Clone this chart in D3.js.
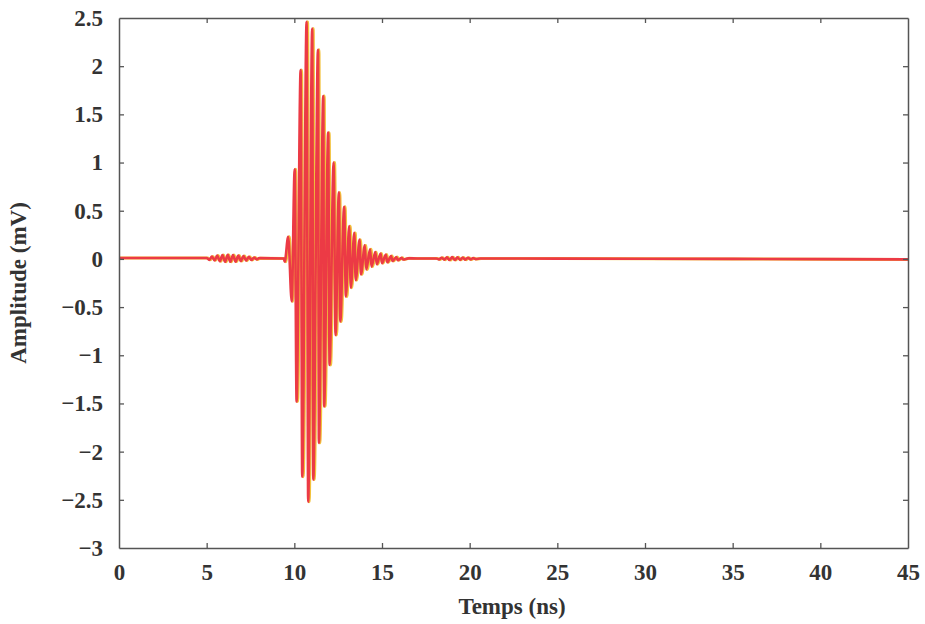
<!DOCTYPE html>
<html>
<head>
<meta charset="utf-8">
<script src="https://cdn.jsdelivr.net/npm/d3@7"></script>
<style>
  html, body { margin: 0; padding: 0; background: #fff; }
  svg { display: block; }
  text { font-family: "Liberation Serif", "DejaVu Serif", serif; font-weight: bold; fill: #333; }
</style>
</head>
<body>
<svg id="chart" width="925" height="624"></svg>
<script>
const timesNs = [
  0, 4.9,
  5.00, 5.15, 5.30, 5.45, 5.60, 5.75, 5.90, 6.05, 6.20, 6.35, 6.50, 6.65, 6.80, 6.95,
  7.10, 7.25, 7.40, 7.55, 7.70, 7.85, 8.00,
  9.40, 9.45, 9.65, 9.85,
  10.02, 10.13, 10.36, 10.45, 10.70, 10.79, 11.02, 11.08, 11.35, 11.40,
  11.65, 11.70, 11.93, 12.01, 12.24, 12.35, 12.54, 12.62, 12.84, 12.94,
  13.13, 13.22, 13.42, 13.50, 13.72, 13.80, 14.02, 14.10, 14.32, 14.40,
  14.62, 14.70, 14.92, 15.00, 15.22, 15.30, 15.52, 15.60, 15.82, 15.90,
  16.12, 16.20, 16.50, 17.00,
  18.10, 18.25, 18.40, 18.55, 18.70, 18.85, 19.00, 19.15, 19.30, 19.45,
  19.60, 19.75, 19.90, 20.05, 20.20, 20.35, 20.60,
  25, 35, 45
];
const amplitudesMv = [
  0.01, 0.01,
  0.01, -0.01, 0.025, -0.015, 0.035, -0.025, 0.04, -0.03, 0.042, -0.03, 0.04, -0.028, 0.035, -0.022,
  0.03, -0.018, 0.022, -0.012, 0.015, -0.005, 0.008,
  0.005, -0.03, 0.23, -0.44,
  0.93, -1.48, 1.96, -2.26, 2.46, -2.52, 2.39, -2.29, 2.17, -1.91,
  1.69, -1.53, 1.31, -1.10, 1.00, -0.79, 0.69, -0.65, 0.54, -0.39,
  0.34, -0.30, 0.27, -0.22, 0.20, -0.16, 0.14, -0.11, 0.10, -0.08,
  0.07, -0.055, 0.055, -0.045, 0.045, -0.035, 0.03, -0.022, 0.02, -0.013,
  0.012, -0.006, 0.006, 0.005,
  0.005, -0.005, 0.012, -0.008, 0.016, -0.012, 0.018, -0.012, 0.016, -0.01,
  0.014, -0.008, 0.012, -0.005, 0.008, -0.002, 0.005,
  0.003, 0.0, -0.005
];
const xTicks = [0, 5, 10, 15, 20, 25, 30, 35, 40, 45];
const yTicks = [-3, -2.5, -2, -1.5, -1, -0.5, 0, 0.5, 1, 1.5, 2, 2.5];
const xLabel = "Temps (ns)";
const yLabel = "Amplitude (mV)";

// ---- layout ----
const margin = { left: 119, right: 925 - 908, top: 18, bottom: 624 - 548 };
const W = 925, H = 624;
const svg = d3.select("#chart");

const x = d3.scaleLinear().domain([0, 45]).range([margin.left, W - margin.right]);
const y = d3.scaleLinear().domain([-3, 2.5]).range([H - margin.bottom, margin.top]);

const points = timesNs.map((t, i) => [t, amplitudesMv[i]]);

const line = d3.line()
  .x(d => x(d[0]))
  .y(d => y(d[1]))
  .curve(d3.curveMonotoneX);

svg.append("clipPath").attr("id", "clip")
  .append("rect")
  .attr("x", margin.left).attr("y", margin.top)
  .attr("width", W - margin.left - margin.right)
  .attr("height", H - margin.top - margin.bottom);

const plot = svg.append("g").attr("clip-path", "url(#clip)");

plot.append("path")
  .datum(points)
  .attr("d", line)
  .attr("fill", "none")
  .attr("stroke", "#f2c23c")
  .attr("stroke-width", 3)
  .attr("stroke-linejoin", "round")
  .attr("transform", "translate(1,0)");

plot.append("path")
  .datum(points)
  .attr("d", line)
  .attr("fill", "none")
  .attr("stroke", "#ec3a45")
  .attr("stroke-width", 2.6)
  .attr("stroke-linejoin", "round");

// ---- axes (ticks inside, mirrored) ----
const axisColor = "#555";
const tickLen = 5;

const gB = svg.append("g").attr("transform", `translate(0,${H - margin.bottom})`)
  .call(d3.axisBottom(x).tickValues(xTicks).tickSizeInner(-tickLen).tickSizeOuter(0).tickPadding(16).tickFormat(d3.format("d")));
const gT = svg.append("g").attr("transform", `translate(0,${margin.top})`)
  .call(d3.axisTop(x).tickValues(xTicks).tickSizeInner(-tickLen).tickSizeOuter(0).tickFormat(""));
const fmtY = d => (d < 0 ? "\u2212" + Math.abs(d) : String(d));
const gL = svg.append("g").attr("transform", `translate(${margin.left},0)`)
  .call(d3.axisLeft(y).tickValues(yTicks).tickSizeInner(-tickLen).tickSizeOuter(0).tickPadding(16).tickFormat(fmtY));
const gR = svg.append("g").attr("transform", `translate(${W - margin.right},0)`)
  .call(d3.axisRight(y).tickValues(yTicks).tickSizeInner(-tickLen).tickSizeOuter(0).tickFormat(""));

[gB, gT, gL, gR].forEach(g => {
  g.select(".domain").attr("stroke", axisColor).attr("stroke-width", 1.5);
  g.selectAll(".tick line").attr("stroke", axisColor).attr("stroke-width", 1.3);
  g.selectAll(".tick text")
    .attr("fill", "#333")
    .style("font-family", "'Liberation Serif', serif")
    .style("font-weight", "bold")
    .style("font-size", "23px");
});
gB.selectAll(".tick").filter(d => d === 0 || d === 45).select("line").remove();
gT.selectAll(".tick").filter(d => d === 0 || d === 45).select("line").remove();
gL.selectAll(".tick").filter(d => d === -3 || d === 2.5).select("line").remove();
gR.selectAll(".tick").filter(d => d === -3 || d === 2.5).select("line").remove();

// ---- axis titles ----
svg.append("text")
  .attr("x", 512)
  .attr("y", 614)
  .attr("text-anchor", "middle")
  .style("font-size", "23px")
  .text(xLabel);

svg.append("text")
  .attr("transform", `translate(26,${(y(-3) + y(2.5)) / 2}) rotate(-90)`)
  .attr("text-anchor", "middle")
  .style("font-size", "23px")
  .text(yLabel);
</script>
</body>
</html>
